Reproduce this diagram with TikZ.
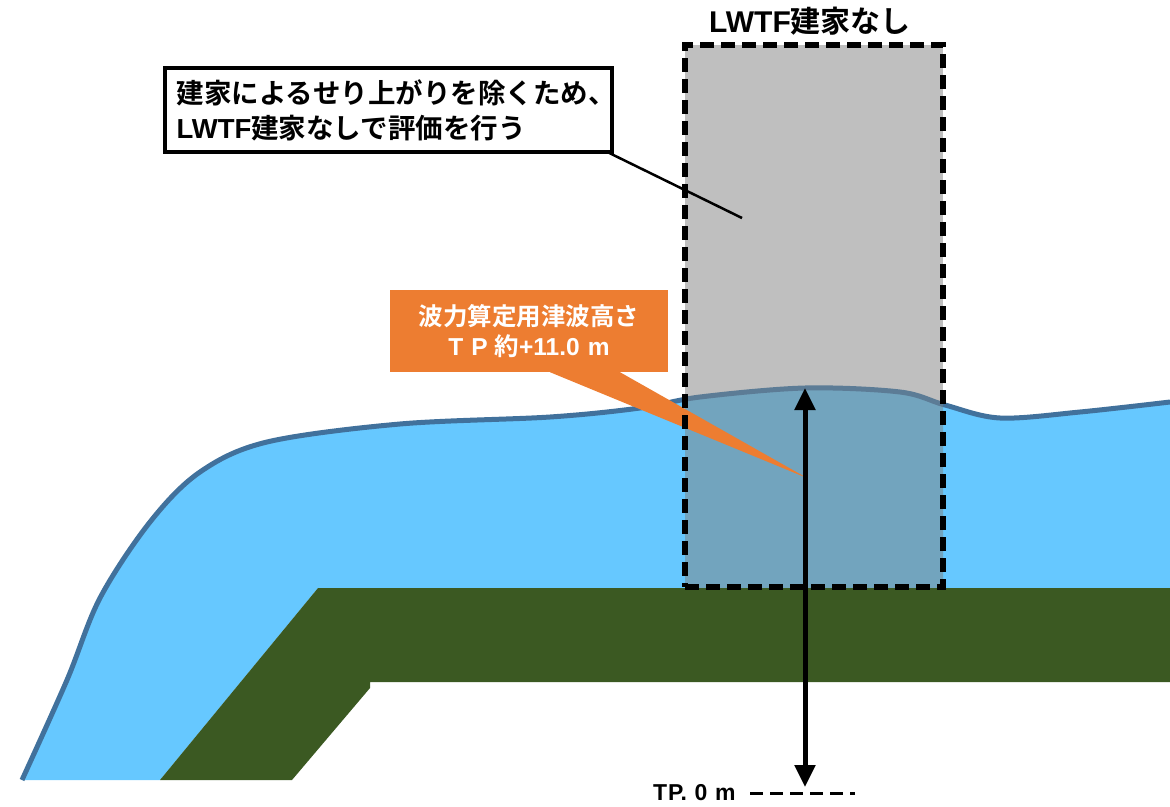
\documentclass[tikz,border=0pt]{standalone}
\usepackage{fontspec}
\setmainfont{Noto Sans CJK JP}[BoldFont={Noto Sans CJK JP Bold}]
\newfontfamily\lat{Liberation Sans}
\usetikzlibrary{arrows.meta}
\definecolor{water}{RGB}{102,200,255}
\definecolor{waterline}{RGB}{65,113,156}
\definecolor{ground}{RGB}{59,89,34}
\definecolor{bldg}{RGB}{191,191,191}
\definecolor{bldgwater}{RGB}{114,164,190}
\definecolor{bldgline}{RGB}{92,124,150}
\definecolor{callorange}{RGB}{237,125,49}
\tikzset{
  note/.style={draw=black, line width=3.5pt, fill=white, minimum width=447pt,
    minimum height=84pt, text width=424pt, align=left, inner sep=0pt,
    font=\bfseries\fontsize{27.5}{35}\selectfont},
  orangebox/.style={fill=callorange, text=white, minimum width=278pt,
    minimum height=82pt, align=center, inner sep=0pt,
    font=\bfseries\fontsize{24.5}{30}\selectfont},
  bordercase/.style={draw=black, line width=6pt, dash pattern=on 14pt off 7pt},
  levelarrow/.style={line width=5pt, {Triangle[length=22pt,width=20pt]}-{Triangle[length=22pt,width=20pt]}},
}
\begin{document}
\begin{tikzpicture}[x=1pt,y=-1pt]
\useasboundingbox (0,0) rectangle (1170,806);
% water surface profile
\def\surface{plot[smooth,tension=0.55] coordinates {(22,780) (67,680) (100,598) (150,522) (200,472) (267,442) (400,424) (550,417) (640,408) (700,397) (805,388) (900,392) (945,405) (1000,418) (1080,412) (1170,402)}}
% water body
\fill[water] \surface -- (1170,588) -- (318,588) -- (160,780) -- cycle;
% building footprint (translucent over the water)
\fill[bldg] (685,45) rectangle (943,587);
\begin{scope}
  \clip (685,45) rectangle (943,587);
  \fill[bldgwater] \surface -- (1170,588) -- (318,588) -- (160,780) -- cycle;
\end{scope}
% water surface line
\begin{scope}
  \clip (0,0) rectangle (685,806) (943,0) rectangle (1170,806);
  \draw[waterline, line width=5pt] \surface;
\end{scope}
\begin{scope}
  \clip (685,45) rectangle (943,587);
  \draw[bldgline, line width=5pt] \surface;
\end{scope}
% ground
\fill[ground] (160,780) -- (318,588) -- (1170,588) -- (1170,682) -- (370,682) -- (370,688) -- (292,780) -- cycle;
% callouts
\node[note] (cb) at (388.5,110) {建家によるせり上がりを除くため、\\{\lat LWTF}建家なしで評価を行う};
\coordinate (cbtip) at (742,218);
\draw[line width=2.5pt] (cb.south east) ++(-7,-2) coordinate (cbfoot) (cbfoot) -- (cbtip);
\node[orangebox] (ob) at (529,331) {波力算定用津波高さ\\{\lat T\,\,P }約{\lat +11.0\,\,m}};
\coordinate (obtip) at (807,478);
\fill[callorange] (ob.south) ++(21,0) coordinate (oba) -- ++(70,0) -- (obtip) -- cycle;
% building outline and title
\node[bordercase, minimum width=258pt, minimum height=542pt, inner sep=0pt] (bl) at (814,316) {};
\node[font=\bfseries\fontsize{30}{32}\selectfont] (bt) at (810,21) {{\lat LWTF}建家なし};
% height arrow and datum
\coordinate (top) at (805,388);
\coordinate (datum) at (805,787);
\draw[levelarrow] (datum) -- (top);
\coordinate (dl) at (750,793);
\coordinate (dr) at (855,793);
\draw[line width=3pt, dash pattern=on 13pt off 7pt] (dl) -- (dr);
\node[font=\lat\bfseries\fontsize{23}{26}\selectfont, anchor=east] (tp) at (739,793) {T\kern1ptP.\,\,0\,\,m};
\end{tikzpicture}
\end{document}
